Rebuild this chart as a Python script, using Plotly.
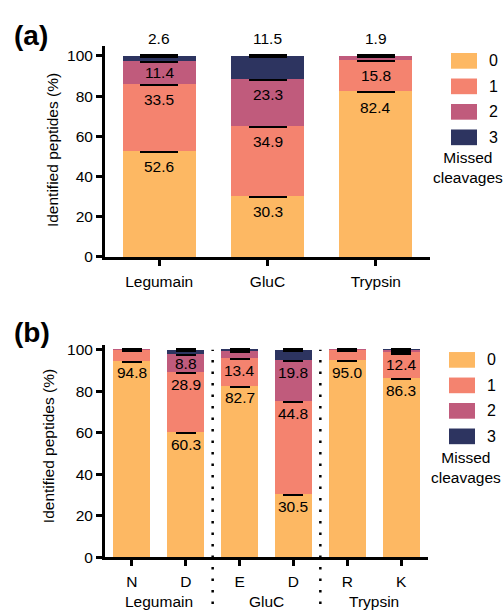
import plotly.graph_objects as go

# ---------------- data ----------------
series_names = ["0", "1", "2", "3"]
series_colors = ["#FDB863", "#F4836F", "#C05B7C", "#2D3460"]

# panel (a)
cats_a = ["Legumain", "GluC", "Trypsin"]
mc0_a = [52.6, 30.3, 82.4]
mc1_a = [33.5, 34.9, 15.8]
mc2_a = [11.4, 23.3, 1.9]
mc3_a = [2.6, 11.5, 0.0]
sd0_a = [0.5, 0.5, 0.5]
sd1_a = [0.5, 0.5, 0.5]
sd2_a = [0.5, 0.5, 0.5]
sd3_a = [0.5, 0.5, 0.5]

# panel (b)
ticks_b = ["N", "D", "E", "D", "R", "K"]
groups_b = ["Legumain", "GluC", "Trypsin"]
mc0_b = [94.8, 60.3, 82.7, 30.5, 95.0, 86.3]
mc1_b = [5.0, 28.9, 13.4, 44.8, 4.9, 12.4]
mc2_b = [0.2, 8.8, 3.5, 19.8, 0.1, 1.2]
mc3_b = [0.0, 2.0, 0.4, 4.9, 0.0, 0.1]
sd0_b = [0.5, 0.5, 0.5, 0.5, 0.5, 0.5]
sd1_b = [0.5, 0.5, 0.5, 0.5, 0.5, 0.5]
sd2_b = [0.5, 0.5, 0.5, 0.5, 0.5, 0.5]
sd3_b = [0.5, 0.5, 0.5, 0.5, 0.5, 0.5]

# ---------------- layout constants ----------------
W, H = 504, 612
FONT = "Liberation Sans, Arial, sans-serif"
FS = 15.5

def px_x(p):
    return p / W

def px_y(p):
    return 1 - p / H

dom_xa = [px_x(105), px_x(430)]
dom_ya = [px_y(258), px_y(42.75)]
range_ya = [0, 105]
dom_xb = [px_x(105), px_x(428)]
dom_yb = [px_y(564.3), px_y(348)]
range_yb = [0, 102.2]

fig = go.Figure()

vals_a = [mc0_a, mc1_a, mc2_a, mc3_a]
sds_a = [sd0_a, sd1_a, sd2_a, sd3_a]
vals_b = [mc0_b, mc1_b, mc2_b, mc3_b]
sds_b = [sd0_b, sd1_b, sd2_b, sd3_b]

xb = list(range(len(ticks_b)))

for i, name in enumerate(series_names):
    fig.add_trace(go.Bar(
        x=cats_a, y=vals_a[i], name=name, marker_color=series_colors[i],
        marker_line_width=0, width=0.675, showlegend=False,
        error_y=dict(type="data", symmetric=True,
                     array=[s if v > 0 else None for v, s in zip(vals_a[i], sds_a[i])],
                     color="black", thickness=2.2, width=19),
        xaxis="x", yaxis="y"))
    fig.add_trace(go.Bar(
        x=xb, y=vals_b[i], name=name, marker_color=series_colors[i],
        marker_line_width=0, width=0.69, showlegend=False,
        error_y=dict(type="data", symmetric=True,
                     array=[s if v > 0 else None for v, s in zip(vals_b[i], sds_b[i])],
                     color="black", thickness=2.2, width=10),
        xaxis="x2", yaxis="y2"))

annotations = []

def seg_labels(xs, vals, xref, yref, ppu, off_px, top_above, thresh):
    n = len(xs)
    for j in range(n):
        cum = 0
        segs = []
        for i in range(len(vals)):
            v = vals[i][j]
            segs.append((i, cum, cum + v, v))
            cum += v
        nonzero = [s for s in segs if s[3] > 0]
        top_idx = nonzero[-1][0] if nonzero else -1
        for (i, lo, hi, v) in segs:
            if v <= 0:
                continue
            if top_above and i == top_idx:
                annotations.append(dict(x=xs[j], y=hi, xref=xref, yref=yref,
                                        text=f"{v:.1f}", showarrow=False,
                                        yanchor="middle", yshift=17,
                                        font=dict(size=FS, family=FONT, color="black")))
                continue
            if v < thresh:
                continue
            y_lab = max(hi - off_px / ppu, (lo + hi) / 2)
            annotations.append(dict(x=xs[j], y=y_lab, xref=xref, yref=yref,
                                    text=f"{v:.1f}", showarrow=False,
                                    yanchor="middle",
                                    font=dict(size=FS, family=FONT, color="black")))

ppu_a = (dom_ya[1] - dom_ya[0]) * H / (range_ya[1] - range_ya[0])
ppu_b = (dom_yb[1] - dom_yb[0]) * H / (range_yb[1] - range_yb[0])
seg_labels(cats_a, vals_a, "x", "y", ppu_a, 16, True, 0)
seg_labels(xb, vals_b, "x2", "y2", ppu_b, 12.5, False, 6)

# group labels under panel (b)
for k, g in enumerate(groups_b):
    annotations.append(dict(x=2 * k + 0.5, y=px_y(609), xref="x2", yref="paper",
                            text=g, showarrow=False, yanchor="middle",
                            font=dict(size=FS, family=FONT, color="black")))

# panel letters
annotations.append(dict(x=px_x(31), y=px_y(32), xref="paper", yref="paper", text="<b>(a)</b>",
                        showarrow=False, xanchor="center", yanchor="middle",
                        font=dict(size=28, family=FONT, color="black")))
annotations.append(dict(x=px_x(32), y=px_y(335), xref="paper", yref="paper", text="<b>(b)</b>",
                        showarrow=False, xanchor="center", yanchor="middle",
                        font=dict(size=28, family=FONT, color="black")))

# y axis titles
annotations.append(dict(x=px_x(52), y=px_y(149), xref="paper", yref="paper",
                        text="Identified peptides (%)", textangle=-90, showarrow=False,
                        xanchor="center", yanchor="middle",
                        font=dict(size=FS, family=FONT, color="black")))
annotations.append(dict(x=px_x(48), y=px_y(451), xref="paper", yref="paper",
                        text="Identified peptides (%)", textangle=-90, showarrow=False,
                        xanchor="center", yanchor="middle",
                        font=dict(size=FS, family=FONT, color="black")))

shapes = []
# manual legends
def legend(x0, x1, rows, xt, xm, ym):
    for i, name in enumerate(series_names):
        shapes.append(dict(type="rect", xref="paper", yref="paper",
                           x0=px_x(x0), x1=px_x(x1), y0=px_y(rows[i] + 8), y1=px_y(rows[i] - 8),
                           fillcolor=series_colors[i], line=dict(width=0)))
        annotations.append(dict(x=px_x(xt), y=px_y(rows[i]), xref="paper", yref="paper",
                                text=name, showarrow=False, xanchor="center", yanchor="middle",
                                font=dict(size=16, family=FONT, color="black")))
    annotations.append(dict(x=px_x(xm), y=px_y(ym), xref="paper", yref="paper",
                            text="Missed<br>cleavages", showarrow=False,
                            xanchor="center", yanchor="middle",
                            font=dict(size=FS, family=FONT, color="black")))

legend(451, 477, [58, 84, 110, 136], 493, 468, 167)
legend(449, 475, [363, 389, 415, 441], 491, 466, 473)

# dotted separators in panel (b)
for xv in [1.5, 3.5]:
    xp = dom_xb[0] + (xv + 0.5) / len(ticks_b) * (dom_xb[1] - dom_xb[0])
    ytop = dom_yb[0] + (100 - range_yb[0]) / (range_yb[1] - range_yb[0]) * (dom_yb[1] - dom_yb[0])
    shapes.append(dict(type="line", xref="paper", yref="paper", x0=xp, x1=xp, y0=0, y1=ytop,
                       line=dict(color="black", width=2.5, dash="2.5px,9px")))

axis_common = dict(showline=True, linecolor="black", linewidth=3, ticks="outside",
                   tickcolor="black", tickwidth=2.5, ticklen=6, showgrid=False, zeroline=False,
                   tickfont=dict(size=FS, family=FONT, color="black"))

fig.update_layout(
    width=W, height=H, margin=dict(l=0, r=0, t=0, b=0),
    paper_bgcolor="white", plot_bgcolor="white",
    barmode="stack", bargap=0.3,
    font=dict(family=FONT, size=FS, color="black"),
    xaxis=dict(domain=dom_xa, anchor="y", type="category", range=[-0.5, 2.5],
               ticklabelstandoff=2, **axis_common),
    yaxis=dict(domain=dom_ya, anchor="x", range=range_ya, tickvals=[0, 20, 40, 60, 80, 100],
               **axis_common),
    xaxis2=dict(domain=dom_xb, anchor="y2", range=[-0.5, 5.5], tickvals=xb, ticktext=ticks_b,
                ticklabelstandoff=2, **axis_common),
    yaxis2=dict(domain=dom_yb, anchor="x2", range=range_yb, tickvals=[0, 20, 40, 60, 80, 100],
                **axis_common),
    annotations=annotations, shapes=shapes,
)

fig.write_html("out.html", config={"displayModeBar": False},
               post_script="document.body.style.margin='0';document.body.style.overflow='hidden';")
